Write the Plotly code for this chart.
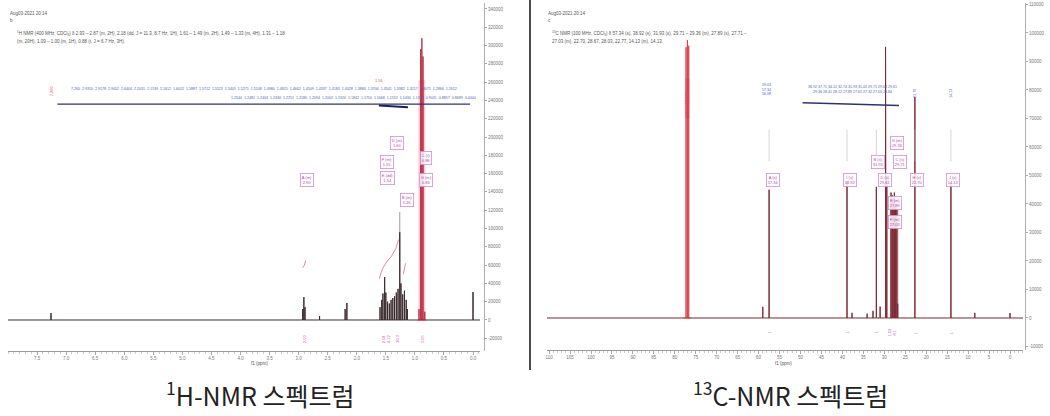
import plotly.graph_objects as go

W, H = 1050, 416

# ---------------- 1H NMR (400 MHz, CDCl3) ----------------
h_ppm = [7.26, 2.93, 2.91, 2.89, 2.64, 2.20, 2.17,
         1.60, 1.57, 1.55, 1.52, 1.50, 1.47, 1.44, 1.41, 1.38, 1.35,
         1.32, 1.29, 1.26, 1.24, 1.21, 1.18, 1.15, 1.13, 0.00]
h_int = [7600, 12000, 25000, 14000, 4400, 12000, 18600,
         14000, 22000, 29000, 47000, 30000, 20000, 18000, 22000, 24000, 26000,
         30000, 34000, 96000, 40000, 28000, 32000, 22000, 12000, 30600]
# CH3 triplet, drawn in red
h_main_ppm = [0.93, 0.90, 0.88, 0.86, 0.83]
h_main_int = [12000, 296000, 308000, 288000, 9000]

h_xticks = [7.5, 7.0, 6.5, 6.0, 5.5, 5.0, 4.5, 4.0, 3.5, 3.0, 2.5, 2.0, 1.5, 1.0, 0.5, 0.0]
h_yticks = list(range(-20000, 340001, 20000))

# integration curves (ppm, running integral)
h_integ1_ppm = [1.61, 1.58, 1.54, 1.48, 1.40, 1.33, 1.28]
h_integ1_val = [45000, 52000, 58000, 64000, 70000, 78000, 88000]
h_integ2_ppm = [1.20, 1.18, 1.16]
h_integ2_val = [50000, 55000, 62000]
h_integ3_ppm = [2.93, 2.90, 2.88]
h_integ3_val = [57000, 60000, 65000]

# multiplet boxes: (ppm, height, label)
h_box_ppm = [2.86, 1.31, 1.48, 1.48, 1.14, 0.81, 0.81]
h_box_int = [153000, 193500, 172700, 155200, 131000, 177000, 153000]
h_box_txt = ["A (m)<br>2.90", "D (m)<br>1.60", "F (m)<br>1.55", "E (dd)<br>1.54",
             "B (m)<br>1.26", "C (t)<br>0.88", "G (m)<br>0.86"]

# integral values under the baseline
h_intg_ppm = [2.91, 1.55, 1.45, 1.30, 0.88]
h_intg_txt = ["2.00", "2.04", "4.12", "20.3", "3.05"]

# picked peak lists (top rows)
h_pick_row1 = ["7.260", "2.9310", "2.9178", "2.9052", "2.6404", "2.2031", "2.1749", "2.1612",
               "1.6012", "1.5887", "1.5712", "1.5523", "1.5405", "1.5271", "1.5108", "1.4980",
               "1.4815", "1.4662", "1.4509", "1.4337", "1.4183", "1.4028", "1.3884", "1.3706",
               "1.3541", "1.3382", "1.3217", "1.3075", "1.2866", "1.2612"]
h_pick_row2 = ["1.2544", "1.2481", "1.2403", "1.2330", "1.2251", "1.2180", "1.2094", "1.2002",
               "1.1920", "1.1842", "1.1750", "1.1668", "1.1552", "1.1430", "1.1315", "0.9031",
               "0.8857", "0.8689", "0.0000"]

# ---------------- 13C NMR (100 MHz, CDCl3) ----------------
c_ppm = [59.0, 57.5, 38.9, 37.7, 34.1, 32.7, 31.9, 31.0, 29.7, 29.6, 29.4,
         28.4, 28.1, 27.9, 27.6, 27.3, 27.0, 26.8, 22.7, 14.1, 8.4, 0.0]
c_int = [3900, 45000, 47700, 1800, 1500, 2500, 46000, 4000, 95100, 60000, 50000,
         44000, 43000, 42000, 44000, 40000, 38000, 5000, 77500, 47400, 1800, 1750]
c_solv_ppm = [77.32, 77.00, 76.68]
c_solv_int = [95000, 97500, 95500]

c_xticks = list(range(110, -1, -5))
c_yticks = list(range(-10000, 110001, 10000))

c_box_ppm = [56.6, 38.2, 31.5, 26.3, 29.8, 22.2, 13.6, 27.0, 27.4, 27.4]
c_box_int = [48400, 48400, 54800, 54800, 48400, 48400, 48400, 61400, 40400, 33700]
c_box_txt = ["A (s)<br>57.34", "I (s)<br>38.92", "B (s)<br>31.93", "C (s)<br>29.71",
             "D (s)<br>29.61", "H (s)<br>22.70", "J (s)<br>14.13", "G (m)<br>29.36",
             "E (m)<br>27.89", "F (m)<br>27.03"]

c_intg_ppm = [57.5, 38.9, 31.9, 28.8, 27.6, 22.7, 14.1]
c_intg_txt = ["1", "1", "1", "1.02", "8.1", "1", "1"]

c_pick_a = ["59.03", "57.34", "56.98"]
c_pick_b = ["38.92", "37.71", "34.12", "32.74", "31.93", "31.02", "29.71", "29.68",
            "29.61", "29.36", "28.41", "28.12", "27.89", "27.61", "27.32", "27.03", "26.84"]


def stick_trace(ppm, inten, hi, lo):
    """Baseline with one vertical stick per peak."""
    pairs = sorted(zip(ppm, inten), reverse=True)
    xs, ys = [hi], [0]
    for p, v in pairs:
        xs += [p, p, p]
        ys += [0, v, 0]
    xs.append(lo)
    ys.append(0)
    return xs, ys


fig = go.Figure()

# ---- 1H traces ----
hx, hy = stick_trace(h_ppm, h_int, 8.0, -0.12)
fig.add_trace(go.Scatter(x=hx, y=hy, mode="lines", line=dict(color="#3b2b2e", width=1),
                         xaxis="x", yaxis="y", hoverinfo="skip"))
mx, my = stick_trace(h_main_ppm, h_main_int, 0.95, 0.81)
fig.add_trace(go.Scatter(x=mx, y=my, mode="lines", line=dict(color="#b8283f", width=0.9),
                         xaxis="x", yaxis="y", hoverinfo="skip"))
for px_, pv_ in [(h_integ1_ppm, h_integ1_val), (h_integ2_ppm, h_integ2_val), (h_integ3_ppm, h_integ3_val)]:
    fig.add_trace(go.Scatter(x=px_, y=pv_, mode="lines", line=dict(color="#e07a9a", width=0.9),
                             xaxis="x", yaxis="y", hoverinfo="skip"))

# ---- 13C traces ----
cx, cy = stick_trace(c_ppm, c_int, 110.5, -3.1)
fig.add_trace(go.Scatter(x=cx, y=cy, mode="lines", line=dict(color="#7c2a33", width=1),
                         xaxis="x2", yaxis="y2", hoverinfo="skip"))
sx, sy = stick_trace(c_solv_ppm, c_solv_int, 78.0, 76.0)
fig.add_trace(go.Scatter(x=sx, y=sy, mode="lines", line=dict(color="#d8323f", width=0.8),
                         xaxis="x2", yaxis="y2", hoverinfo="skip"))

shapes = []
# shaded peak bands
shapes.append(dict(type="rect", xref="x", yref="y", x0=0.94, x1=0.82, y0=0, y1=262000,
                   fillcolor="rgba(228,130,160,0.42)", line=dict(width=0), layer="below"))
shapes.append(dict(type="rect", xref="x2", yref="y2", x0=28.6, x1=26.6, y0=0, y1=42000,
                   fillcolor="rgba(215,120,135,0.5)", line=dict(width=0), layer="below"))
shapes.append(dict(type="rect", xref="x2", yref="y2", x0=77.5, x1=76.5, y0=70000, y1=84000,
                   fillcolor="rgba(235,110,120,0.45)", line=dict(width=0), layer="below"))
# peak-pick connector bars
shapes.append(dict(type="line", xref="x", yref="y", x0=7.15, x1=0.05, y0=236000, y1=236000,
                   line=dict(color="#2c3470", width=1.1)))
shapes.append(dict(type="line", xref="x", yref="y", x0=1.62, x1=1.12, y0=234500, y1=232500,
                   line=dict(color="#1d2255", width=2)))
shapes.append(dict(type="line", xref="x2", yref="y2", x0=49.5, x1=26.5, y0=75500, y1=74500,
                   line=dict(color="#2c3470", width=1.5)))
# connector from box to the 1.26 ppm peak
shapes.append(dict(type="line", xref="x", yref="y", x0=1.26, x1=1.26, y0=96000, y1=118000,
                   line=dict(color="#555", width=0.6)))
# tick stubs above the 13C peaks
for p in [57.5, 38.9, 31.9, 22.7, 14.1]:
    shapes.append(dict(type="line", xref="x2", yref="y2", x0=p, x1=p, y0=55000, y1=66000,
                       line=dict(color="#b8b8b8", width=0.6)))
# panel divider
shapes.append(dict(type="line", xref="paper", yref="paper", x0=530 / W, x1=530 / W,
                   y0=(H - 370) / H, y1=1.0, line=dict(color="#111", width=1.5)))

ann = []
tiny = dict(family="Liberation Sans", size=4.5, color="#555")

# header texts
ann += [
    dict(text="Aug03-2021 20:14", x=8 / W, y=(H - 13) / H, xref="paper", yref="paper",
         xanchor="left", yanchor="middle", showarrow=False, font=tiny),
    dict(text="b", x=8 / W, y=(H - 20) / H, xref="paper", yref="paper",
         xanchor="left", yanchor="middle", showarrow=False, font=tiny),
    dict(text="<sup>1</sup>H NMR (400 MHz, CDCl<sub>3</sub>) δ 2.93 – 2.87 (m, 2H), 2.18 (dd, J = 11.3, 8.7 Hz, 1H), 1.61 – 1.49 (m, 2H), 1.49 – 1.33 (m, 4H), 1.31 – 1.18",
         x=15 / W, y=(H - 33) / H, xref="paper", yref="paper",
         xanchor="left", yanchor="middle", showarrow=False, font=tiny),
    dict(text="(m, 20H), 1.09 – 1.00 (m, 1H), 0.88 (t, J = 6.7 Hz, 3H).",
         x=15 / W, y=(H - 42) / H, xref="paper", yref="paper",
         xanchor="left", yanchor="middle", showarrow=False, font=tiny),
    dict(text="Aug03-2021 20:14", x=546 / W, y=(H - 13) / H, xref="paper", yref="paper",
         xanchor="left", yanchor="middle", showarrow=False, font=tiny),
    dict(text="c", x=546 / W, y=(H - 20) / H, xref="paper", yref="paper",
         xanchor="left", yanchor="middle", showarrow=False, font=tiny),
    dict(text="<sup>13</sup>C NMR (100 MHz, CDCl<sub>3</sub>) δ 57.34 (s), 38.92 (s), 31.93 (s), 29.71 – 29.36 (m), 27.89 (s), 27.71 –",
         x=550 / W, y=(H - 33) / H, xref="paper", yref="paper",
         xanchor="left", yanchor="middle", showarrow=False, font=tiny),
    dict(text="27.03 (m), 22.70, 28.67, 28.03, 22.77, 14.13 (m), 14.13.",
         x=550 / W, y=(H - 42) / H, xref="paper", yref="paper",
         xanchor="left", yanchor="middle", showarrow=False, font=tiny),
]

blue = dict(family="Liberation Sans", size=3.6, color="#4a5fc0")
ann += [
    dict(text="  ".join(h_pick_row1), x=6.95, y=252000, xref="x", yref="y",
         xanchor="left", yanchor="middle", showarrow=False, font=blue),
    dict(text="  ".join(h_pick_row2), x=4.2, y=243000, xref="x", yref="y",
         xanchor="left", yanchor="middle", showarrow=False, font=blue),
    dict(text="<br>".join(c_pick_a), x=58.0, y=80000, xref="x2", yref="y2",
         xanchor="center", yanchor="middle", showarrow=False, font=blue),
    dict(text=" ".join(c_pick_b[:9]) + "<br>" + " ".join(c_pick_b[9:]), x=37.5, y=80000,
         xref="x2", yref="y2", xanchor="center", yanchor="middle", showarrow=False, font=blue),
    dict(text="22.70", x=22.7, y=79000, xref="x2", yref="y2", textangle=-90,
         showarrow=False, font=blue),
    dict(text="14.13", x=14.1, y=79000, xref="x2", yref="y2", textangle=-90,
         showarrow=False, font=blue),
]
red = dict(family="Liberation Sans", size=4, color="#e0505a")
ann += [
    dict(text="7.260", x=7.26, y=250000, xref="x", yref="y", textangle=-90,
         showarrow=False, font=red),
    dict(text="77.318", x=77.32, y=77000, xref="x2", yref="y2", textangle=-90,
         showarrow=False, font=red),
    dict(text="77.000", x=76.9, y=77000, xref="x2", yref="y2", textangle=-90,
         showarrow=False, font=red),
    dict(text="1.56", x=1.61, y=262000, xref="x", yref="y",
         showarrow=False, font=red),
]

box_font = dict(family="Liberation Sans", size=4, color="#b04aa8")
for p, v, t in zip(h_box_ppm, h_box_int, h_box_txt):
    ann.append(dict(text=t, x=p, y=v, xref="x", yref="y", showarrow=False, font=box_font,
                    bordercolor="#d78cd0", borderwidth=0.8, borderpad=1, bgcolor="rgba(255,255,255,0.85)"))
for p, v, t in zip(c_box_ppm, c_box_int, c_box_txt):
    ann.append(dict(text=t, x=p, y=v, xref="x2", yref="y2", showarrow=False, font=box_font,
                    bordercolor="#d78cd0", borderwidth=0.8, borderpad=1, bgcolor="rgba(255,255,255,0.85)"))

intg_font = dict(family="Liberation Sans", size=4, color="#c060b0")
for p, t in zip(h_intg_ppm, h_intg_txt):
    ann.append(dict(text=t, x=p, y=-20000, xref="x", yref="y", textangle=-90,
                    showarrow=False, font=intg_font))
for p, t in zip(c_intg_ppm, c_intg_txt):
    ann.append(dict(text=t, x=p, y=-5000, xref="x2", yref="y2", textangle=-90,
                    showarrow=False, font=intg_font))

# axis titles
ann += [
    dict(text="f1 (ppm)", x=249 / W, y=(H - 368) / H, xref="paper", yref="paper",
         showarrow=False, font=tiny),
    dict(text="f1 (ppm)", x=794 / W, y=(H - 368) / H, xref="paper", yref="paper",
         showarrow=False, font=tiny),
]

# captions
cap = dict(family="Noto Sans CJK KR", size=25, color="#222")
ann += [
    dict(text="<sup>1</sup>H-NMR 스펙트럼", x=260 / W, y=(H - 394) / H, xref="paper", yref="paper",
         xanchor="center", yanchor="middle", showarrow=False, font=cap),
    dict(text="<sup>13</sup>C-NMR 스펙트럼", x=790 / W, y=(H - 394) / H, xref="paper", yref="paper",
         xanchor="center", yanchor="middle", showarrow=False, font=cap),
]

tickfont = dict(family="Liberation Sans", size=4.5, color="#777")
common_x = dict(showgrid=False, zeroline=False, showline=True, linecolor="#9a9a9a", linewidth=1,
                ticks="outside", ticklen=3, tickcolor="#aaa", tickfont=tickfont)
common_y = dict(showgrid=False, zeroline=False, showline=True, linecolor="#b0b0b0", linewidth=1,
                ticks="outside", ticklen=2, tickcolor="#aaa", tickfont=tickfont, side="right")

fig.update_layout(
    width=W, height=H,
    margin=dict(l=0, r=0, t=0, b=0),
    paper_bgcolor="white", plot_bgcolor="white",
    showlegend=False,
    shapes=shapes,
    annotations=ann,
    xaxis=dict(domain=[8 / W, 480 / W], range=[8.0, -0.12], anchor="y",
               tickvals=h_xticks, ticktext=[f"{v:.1f}" for v in h_xticks],
               minor=dict(ticks="outside", ticklen=2, dtick=0.1, tickcolor="#ccc"), **common_x),
    yaxis=dict(domain=[(H - 351) / H, (H - 3) / H], range=[-33900, 346500],
               anchor="free", position=484 / W, tickvals=h_yticks,
               ticktext=[str(v) for v in h_yticks], **common_y),
    xaxis2=dict(domain=[547 / W, 1023 / W], range=[110.5, -3.1], anchor="y2",
                tickvals=c_xticks, ticktext=[str(v) for v in c_xticks],
                minor=dict(ticks="outside", ticklen=2, dtick=1, tickcolor="#ccc"), **common_x),
    yaxis2=dict(domain=[(H - 350) / H, (H - 3) / H], range=[-11230, 110500],
                anchor="free", position=1025 / W, tickvals=c_yticks,
                ticktext=[str(v) for v in c_yticks], **common_y),
)

fig.write_html("out.html")
